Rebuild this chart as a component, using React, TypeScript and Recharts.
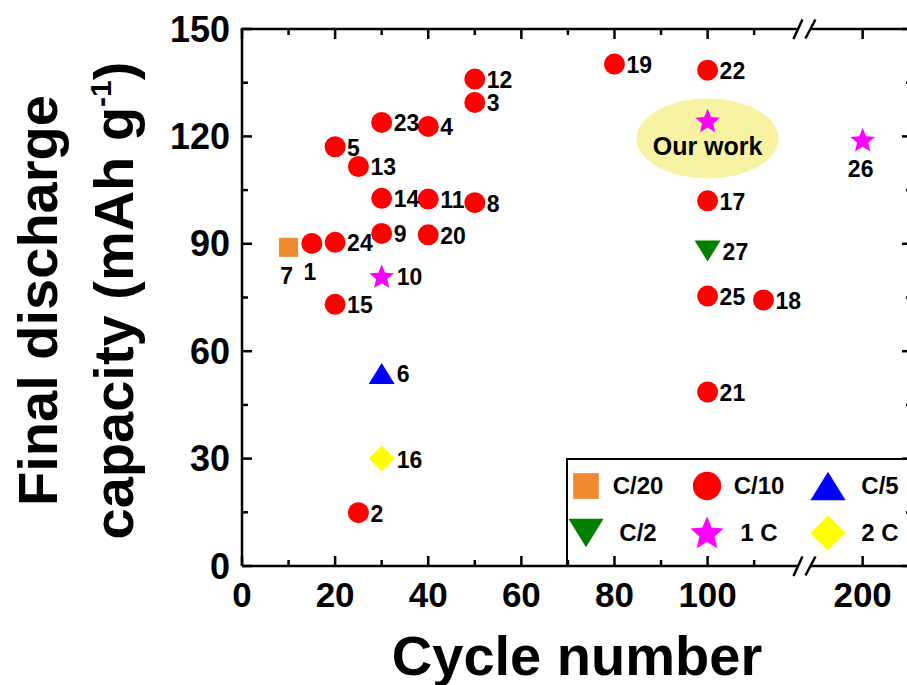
import { ScatterChart, Scatter, XAxis, YAxis, Label } from 'recharts'

const FONT = '"Liberation Sans", Arial, sans-serif'

// cycle number / final discharge capacity (mAh g-1) / reference number, per C-rate
const C20_CYCLES = [10]
const C20_CAPS = [89.0]
const C20_REFS = ['7']

const C10_CYCLES = [15, 25, 50, 40, 20, 50, 30, 40, 50, 25, 30, 20, 100, 112, 80, 40, 100, 100, 30, 20, 100]
const C10_CAPS = [90.1, 14.9, 129.5, 122.8, 117.1, 101.5, 92.9, 102.5, 136.0, 111.6, 102.7, 73.1, 102.0, 74.3, 140.2, 92.5, 48.6, 138.5, 123.9, 90.4, 75.4]
const C10_REFS = ['1', '2', '3', '4', '5', '8', '9', '11', '12', '13', '14', '15', '17', '18', '19', '20', '21', '22', '23', '24', '25']

const C5_CYCLES = [30]
const C5_CAPS = [53.8]
const C5_REFS = ['6']

const C2_CYCLES = [100]
const C2_CAPS = [88.0]
const C2_REFS = ['27']

const C1_CYCLES = [30, 200, 100]
const C1_CAPS = [80.9, 119.0, 124.4]
const C1_REFS = ['10', '26', '']

const TWO_C_CYCLES = [30]
const TWO_C_CAPS = [30.0]
const TWO_C_REFS = ['16']

const LABEL_BELOW = ['7', '1', '26']

const OUR_WORK_CYCLE = 100
const OUR_WORK_CAP = 119.4

const CYCLE_TICKS = [0, 10, 20, 30, 40, 50, 60, 70, 80, 90, 100, 110, 200]
const MAJOR_CYCLES = [0, 20, 40, 60, 80, 100, 200]
const CAP_TICKS = [0, 15, 30, 45, 60, 75, 90, 105, 120, 135, 150]
const CAP_MAX = 150

// broken x axis: linear up to the break, compressed after it
const BREAK_AT = 120.8
const AXIS_200 = 133.3
const X_MAX = 143.9
const TAIL = (AXIS_200 - BREAK_AT) / (200 - BREAK_AT)
const toAxis = (c: number) => (c <= BREAK_AT ? c : BREAK_AT + (c - BREAK_AT) * TAIL)
const fromAxis = (v: number) => (v <= BREAK_AT ? v : BREAK_AT + (v - BREAK_AT) / TAIL)

// chart box
const CHART_W = 913
const CHART_H = 685
const MARGIN_TOP = 29
const MARGIN_RIGHT = 1
const Y_AXIS_W = 242
const X_AXIS_H = 119
const PLOT_H = CHART_H - MARGIN_TOP - X_AXIS_H
const PLOT_W = CHART_W - MARGIN_RIGHT - Y_AXIS_W
const STROKE = 2.5

type Kind = 'square' | 'circle' | 'up' | 'down' | 'star' | 'diamond'

const SERIES: { name: string; kind: Kind; color: string; cycles: number[]; caps: number[]; refs: string[] }[] = [
  { name: 'C/20', kind: 'square', color: '#EF8A30', cycles: C20_CYCLES, caps: C20_CAPS, refs: C20_REFS },
  { name: 'C/10', kind: 'circle', color: '#FF0000', cycles: C10_CYCLES, caps: C10_CAPS, refs: C10_REFS },
  { name: 'C/5', kind: 'up', color: '#0000FF', cycles: C5_CYCLES, caps: C5_CAPS, refs: C5_REFS },
  { name: 'C/2', kind: 'down', color: '#007F00', cycles: C2_CYCLES, caps: C2_CAPS, refs: C2_REFS },
  { name: '1 C', kind: 'star', color: '#FF00FF', cycles: C1_CYCLES, caps: C1_CAPS, refs: C1_REFS },
  { name: '2 C', kind: 'diamond', color: '#FFFF00', cycles: TWO_C_CYCLES, caps: TWO_C_CAPS, refs: TWO_C_REFS },
]

function marker(kind: Kind, cx: number, cy: number, color: string, s = 1) {
  switch (kind) {
    case 'square': {
      const h = 9.5 * s
      return <rect x={cx - h} y={cy - h} width={2 * h} height={2 * h} fill={color} />
    }
    case 'circle':
      return <circle cx={cx} cy={cy} r={10.5 * s} fill={color} />
    case 'up': {
      const w = 13 * s, h = 10.5 * s
      return <polygon points={`${cx},${cy - h} ${cx + w},${cy + h} ${cx - w},${cy + h}`} fill={color} />
    }
    case 'down': {
      const w = 13 * s, h = 10.5 * s
      return <polygon points={`${cx - w},${cy - h} ${cx + w},${cy - h} ${cx},${cy + h}`} fill={color} />
    }
    case 'diamond': {
      const d = 13 * s
      return <polygon points={`${cx},${cy - d} ${cx + d},${cy} ${cx},${cy + d} ${cx - d},${cy}`} fill={color} />
    }
    case 'star': {
      const R = 13 * s, r = R * 0.45
      const pts = []
      for (let i = 0; i < 10; i++) {
        const a = -Math.PI / 2 + (i * Math.PI) / 5
        const rr = i % 2 === 0 ? R : r
        pts.push(`${cx + rr * Math.cos(a)},${cy + 1 + rr * Math.sin(a)}`)
      }
      return <polygon points={pts.join(' ')} fill={color} />
    }
  }
}

function pointShape(kind: Kind, color: string) {
  return (p: any) => {
    const { cx, cy, payload } = p
    const ref = payload.ref
    const below = LABEL_BELOW.includes(ref)
    const dx = kind === 'circle' || kind === 'square' ? 12 : 15
    return (
      <g>
        {marker(kind, cx, cy, color)}
        {ref && (
          <text
            x={below ? cx - 2 : cx + dx}
            y={below ? cy + 37 : cy + 9}
            textAnchor={below ? 'middle' : 'start'}
            fontSize={23}
            fontWeight="bold"
            fontFamily={FONT}
            fill="#000"
          >{ref}</text>
        )}
      </g>
    )
  }
}

const ourWorkShape = (p: any) => (
  <g>
    <ellipse cx={p.cx} cy={p.cy} rx={71} ry={40} fill="#F7F3A2" />
    <text x={p.cx} y={p.cy + 16} textAnchor="middle" fontSize={25} fontWeight="bold" fontFamily={FONT} fill="#000">Our work</text>
  </g>
)

const breakMark = (x: number, y: number) => (
  <g key={`brk-${y}`}>
    <rect x={x - 6} y={y - 3} width={12} height={6} fill="#fff" />
    <line x1={x - 11} y1={y + 10} x2={x - 2} y2={y - 9.5} stroke="#000" strokeWidth={STROKE} />
    <line x1={x + 1} y1={y + 9.5} x2={x + 11} y2={y - 9.5} stroke="#000" strokeWidth={STROKE} />
  </g>
)

const xTicks = [...CYCLE_TICKS.map(toAxis), BREAK_AT].sort((a, b) => a - b)

// box frame: top edge, inward ticks on all four sides, axis breaks.
// anchored on the origin point (0, 0) so it follows the chart's own scales
const frameShape = (p: any) => {
  const { cx, cy } = p
  const kx = PLOT_W / X_MAX
  const ky = PLOT_H / CAP_MAX
  const top = cy - PLOT_H
  const right = cx + PLOT_W
  const h = STROKE / 2
  const marks: any[] = [
    <rect key="top" x={cx - h} y={top - h} width={PLOT_W + STROKE} height={STROKE} fill="#000" />,
  ]
  xTicks.forEach(v => {
    const X = cx + v * kx
    if (v === BREAK_AT) {
      marks.push(breakMark(X, cy), breakMark(X, top))
      return
    }
    const len = MAJOR_CYCLES.includes(Math.round(fromAxis(v))) ? 10 : 6
    marks.push(<rect key={`b${v}`} x={X - h} y={cy - len} width={STROKE} height={len} fill="#000" />)
    marks.push(<rect key={`t${v}`} x={X - h} y={top} width={STROKE} height={len} fill="#000" />)
  })
  CAP_TICKS.forEach(v => {
    const Y = cy - v * ky
    const len = v % 30 === 0 ? 10 : 6
    marks.push(<rect key={`l${v}`} x={cx} y={Y - h} width={len} height={STROKE} fill="#000" />)
    marks.push(<rect key={`r${v}`} x={right - len} y={Y - h} width={len} height={STROKE} fill="#000" />)
  })
  return <g>{marks}</g>
}

const XTick = (p: any) => {
  const { x, y, payload } = p
  const v = payload.value
  if (v === BREAK_AT) return <g />
  const c = Math.round(fromAxis(v))
  if (!MAJOR_CYCLES.includes(c)) return <g />
  return <text x={x} y={y + 41} textAnchor="middle" fontSize={35} fontWeight="bold" fontFamily={FONT} fill="#000">{c}</text>
}

const YTick = (p: any) => {
  const { x, y, payload } = p
  const v = payload.value
  if (v % 30 !== 0) return <g />
  return <text x={x - 12} y={y + 12.5} textAnchor="end" fontSize={36} fontWeight="bold" fontFamily={FONT} fill="#000">{v}</text>
}

const XTitle = (p: any) => {
  const { x, y, width } = p.viewBox
  return (
    <text x={x + width / 2} y={y + 109} textAnchor="middle" fontSize={56} fontWeight="bold" fontFamily={FONT} fill="#000">Cycle number</text>
  )
}

const YTitle = (p: any) => {
  const { y, height } = p.viewBox
  const cy = y + height / 2 + 3
  return (
    <g fontSize={56} fontWeight="bold" fontFamily={FONT} fill="#000">
      <text transform={`translate(57, ${cy}) rotate(-90)`} textAnchor="middle">Final discharge</text>
      <text transform={`translate(133, ${cy}) rotate(-90)`} textAnchor="middle">
        capacity (mAh g<tspan dy={-22} fontSize={30}>-1</tspan><tspan dy={22}>)</tspan>
      </text>
    </g>
  )
}

const LegendBox = () => (
  <div style={{
    position: 'absolute', left: 566, top: 458, width: 360, height: 108,
    borderLeft: '2.5px solid #000', borderTop: '2.5px solid #000',
    fontFamily: FONT, fontWeight: 'bold', fontSize: 24, color: '#000',
    display: 'grid', gridTemplateColumns: '121px 121px 121px', gridAutoRows: '47px',
    paddingTop: 2, boxSizing: 'border-box', pointerEvents: 'none',
  }}>
    {SERIES.map(s => (
      <div key={s.name} style={{ display: 'flex', alignItems: 'center' }}>
        <svg width={38} height={40} style={{ flex: 'none' }}>{marker(s.kind, 18, 20, s.color, 1.35)}</svg>
        <span style={{ width: 64, textAlign: 'center' }}>{s.name}</span>
      </div>
    ))}
  </div>
)

export default function App() {
  return (
    <div style={{ position: 'absolute', left: 0, top: 0, width: 907, height: 685, overflow: 'hidden', background: '#fff' }}>
      <ScatterChart width={CHART_W} height={CHART_H} margin={{ top: MARGIN_TOP, right: MARGIN_RIGHT, bottom: 0, left: 0 }}>
        <XAxis
          type="number" dataKey="x" domain={[0, X_MAX]} ticks={xTicks} interval={0}
          height={X_AXIS_H} tickSize={0} tickMargin={0} tickLine={false}
          axisLine={{ stroke: '#000', strokeWidth: STROKE }} tick={XTick}
        >
          <Label content={XTitle} />
        </XAxis>
        <YAxis
          type="number" dataKey="y" domain={[0, CAP_MAX]} ticks={CAP_TICKS} interval={0}
          width={Y_AXIS_W} tickSize={0} tickMargin={0} tickLine={false}
          axisLine={{ stroke: '#000', strokeWidth: STROKE }} tick={YTick}
        >
          <Label content={YTitle} />
        </YAxis>
        <Scatter
          data={[{ x: 0, y: 0 }]} shape={frameShape}
          legendType="none" isAnimationActive={false}
        />
        <Scatter
          data={[{ x: OUR_WORK_CYCLE, y: OUR_WORK_CAP }]} shape={ourWorkShape}
          legendType="none" isAnimationActive={false}
        />
        {SERIES.map(s => (
          <Scatter
            key={s.name}
            name={s.name}
            data={s.cycles.map((c, i) => ({ x: toAxis(c), y: s.caps[i], ref: s.refs[i] }))}
            fill={s.color}
            shape={pointShape(s.kind, s.color)}
            isAnimationActive={false}
          />
        ))}
      </ScatterChart>
      <LegendBox />
    </div>
  )
}
